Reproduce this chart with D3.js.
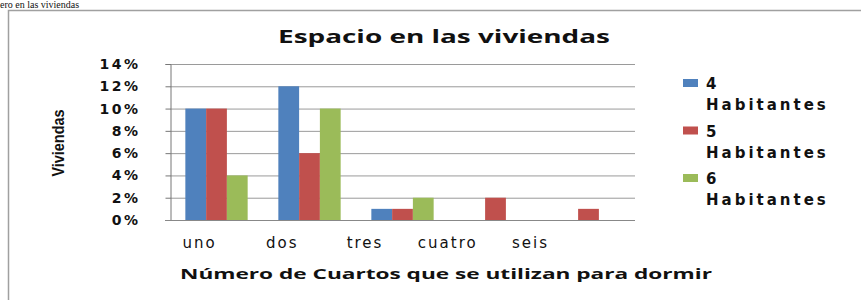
<!DOCTYPE html>
<meta charset="utf-8">
<style>
  body { margin: 0; background: #fff; }
  text { fill: #111; }
  .tick text { font: bold 14px "DejaVu Sans", sans-serif; letter-spacing: 2.5px; }
</style>
<svg width="861" height="300"></svg>
<script src="https://d3js.org/d3.v7.min.js"></script>
<script>

  // data
  var categories = ["uno", "dos", "tres", "cuatro", "seis"];
  var seriesNames = ["4 Habitantes", "5 Habitantes", "6 Habitantes"];
  var hab4 = [10, 12, 1, 0, 0];
  var hab5 = [10, 6, 1, 2, 1];
  var hab6 = [4, 10, 2, 0, 0];
  var yTicks = [0, 2, 4, 6, 8, 10, 12, 14];

  var series = [hab4, hab5, hab6];
  var color = d3.scaleOrdinal(seriesNames, ["#4f81bd", "#c0504d", "#9bbb59"]);

  var svg = d3.select("svg");

  // caption above the frame
  svg.append("text")
    .attr("x", 0).attr("y", 8)
    .style("font", "10px 'Liberation Serif', serif")
    .text("ero en las viviendas");

  // chart frame
  svg.append("rect")
    .attr("x", 8.5).attr("y", 10.5)
    .attr("width", 900).attr("height", 320)
    .attr("fill", "none").attr("stroke", "#a0a0a0").attr("stroke-width", 1.5);

  var x = d3.scaleBand().domain(categories).range([170, 635])
    .paddingInner(0.33).paddingOuter(0.165);
  var xs = d3.scaleBand().domain(d3.range(3)).range([0, x.bandwidth()]);
  var xLabel = d3.scalePoint().domain(categories).range([199, 530]);
  var y = d3.scaleLinear().domain([0, 14]).range([220, 64]);

  // gridlines
  svg.append("g")
    .selectAll("line").data(yTicks.slice(1)).enter().append("line")
    .attr("x1", 170).attr("x2", 635)
    .attr("y1", function(d) { return y(d) + 0.5; })
    .attr("y2", function(d) { return y(d) + 0.5; })
    .attr("stroke", "#9a9a9a");

  // bars
  var groups = svg.append("g").selectAll("g")
    .data(categories).enter().append("g")
    .attr("transform", function(d) { return "translate(" + x(d) + ",0)"; });

  groups.selectAll("rect")
    .data(function(d, i) { return series.map(function(s, j) { return {k: j, v: s[i]}; }); })
    .enter().append("rect")
    .attr("x", function(d) { return xs(d.k); })
    .attr("width", xs.bandwidth())
    .attr("y", function(d) { return y(d.v); })
    .attr("height", function(d) { return y(0) - y(d.v); })
    .attr("fill", function(d) { return color(seriesNames[d.k]); });

  // y axis
  var yAxis = svg.append("g")
    .attr("transform", "translate(170.5,0)")
    .call(d3.axisLeft(y).tickValues(yTicks).tickSize(5).tickPadding(25)
      .tickFormat(function(d) { return d + "%"; }));
  yAxis.selectAll("line, path").attr("stroke", "#777");

  // x axis baseline
  svg.append("line")
    .attr("x1", 165).attr("x2", 635)
    .attr("y1", y(0) + 0.5).attr("y2", y(0) + 0.5)
    .attr("stroke", "#888");

  // category labels
  var xAxis = svg.append("g")
    .attr("transform", "translate(0,231)")
    .call(d3.axisBottom(xLabel).tickSize(0).tickPadding(6));
  xAxis.select(".domain").remove();
  xAxis.selectAll("text").style("font", "15px 'DejaVu Sans', sans-serif").style("letter-spacing", "2px");

  // titles
  svg.append("text")
    .attr("x", 444).attr("y", 43)
    .attr("text-anchor", "middle")
    .attr("textLength", 332).attr("lengthAdjust", "spacingAndGlyphs")
    .style("font", "bold 17px 'Open Sans', sans-serif")
    .text("Espacio en las viviendas");

  svg.append("text")
    .attr("x", 446).attr("y", 279)
    .attr("text-anchor", "middle")
    .attr("textLength", 532).attr("lengthAdjust", "spacingAndGlyphs")
    .style("font", "bold 15px 'Open Sans', sans-serif")
    .text("Número de Cuartos que se utilizan para dormir");

  svg.append("text")
    .attr("transform", "translate(64,143) rotate(-90)")
    .attr("text-anchor", "middle")
    .attr("textLength", 67).attr("lengthAdjust", "spacingAndGlyphs")
    .style("font", "bold 16px 'Liberation Sans Narrow', 'Liberation Sans', sans-serif")
    .text("Viviendas");

  // legend
  var legend = svg.append("g").selectAll("g")
    .data(seriesNames).enter().append("g")
    .attr("transform", function(d, i) { return "translate(683," + (79 + i * 47.5) + ")"; });

  legend.append("rect")
    .attr("width", 15).attr("height", 8)
    .attr("fill", function(d) { return color(d); });

  legend.append("text")
    .attr("x", 23).attr("y", 10)
    .style("font", "bold 15px 'DejaVu Sans', sans-serif")
    .style("letter-spacing", "3px")
    .text(function(d) { return d.split(" ")[0]; });

  legend.append("text")
    .attr("x", 23).attr("y", 31)
    .style("font", "bold 15px 'DejaVu Sans', sans-serif")
    .style("letter-spacing", "3px")
    .text(function(d) { return d.split(" ")[1]; });

</script>
